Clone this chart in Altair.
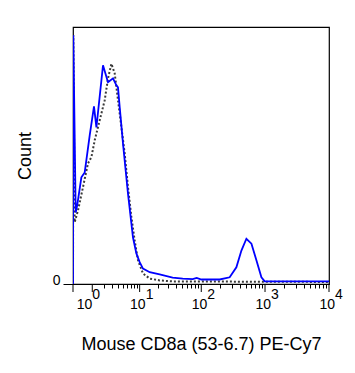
import altair as alt
import pandas as pd

# Blue solid histogram (fluorescence value, count as % of max)
blue_x = [0, 0.011, 0.102, 0.163, 0.352, 0.524, 0.824, 1.128, 1.321, 1.943,
          2.524, 3.217, 3.767, 4.047, 4.37, 5.04, 6.23, 7.66, 8.78, 10.0,
          11.4, 14.8, 21.6, 35.1, 50.8, 73.1, 84.7, 100.4, 195, 279.5,
          356, 427, 511, 613, 733, 878, 988, 10000]
blue_y = [0, 96.8, 27.8, 30.6, 41.5, 43.4, 57.8, 69.1, 60.9, 85.1,
          78.5, 80.0, 77.3, 76.5, 68.7, 54.7, 35.2, 18.1, 11.9, 8.5,
          6.0, 4.6, 3.7, 2.5, 2.1, 1.9, 2.4, 1.75, 1.75, 2.6,
          6.5, 13.0, 17.6, 15.7, 9.2, 2.6, 1.0, 1.0]

# Dotted (control) histogram
dot_x = [0, 0.011, 0.063, 0.197, 0.433, 0.714, 0.939, 1.183, 1.613, 2.128,
         2.524, 2.98, 3.48, 4.05, 4.70, 5.42, 6.23, 7.18, 8.2, 9.37,
         11.4, 14.8, 21.6, 35.1, 10000]
dot_y = [0, 96.8, 24.1, 28.6, 37.7, 46.9, 49.4, 55.9, 63.7, 71.5,
         80.0, 85.7, 82.0, 71.5, 61.1, 50.8, 37.7, 26.0, 16.9, 9.2,
         4.1, 2.1, 1.4, 1.0, 0.8]

minor_ticks = [2, 3, 4, 5, 6, 7, 8, 9,
               20, 30, 40, 50, 60, 70, 80, 90,
               200, 300, 400, 500, 600, 700, 800, 900,
               2000, 3000, 4000, 5000, 6000, 7000, 8000, 9000]
major_ticks = [0, 1, 10, 100, 1000, 10000]
label_vals = [10, 100, 1000, 10000]
label_exps = ["1", "2", "3", "4"]
first_val = [1]
first_exp = ["0"]

x_title = "Mouse CD8a (53-6.7) PE-Cy7"
y_title = "Count"

FONT = "Liberation Sans"
W, H = 256, 257

xscale = alt.Scale(type="symlog", constant=1, domain=[0, 10000], nice=False)
yscale = alt.Scale(domain=[0, 100], nice=False)

xaxis = alt.Axis(values=minor_ticks, labels=False, tickSize=4,
                 tickColor="black", domain=False, grid=False,
                 title=x_title, titleFont=FONT, titleFontSize=18,
                 titleFontWeight="normal", titlePadding=47,
                 titleColor="black")
yaxis = alt.Axis(values=[0], tickSize=10, tickColor="black",
                 labelFont=FONT, labelFontSize=14, labelColor="black",
                 labelPadding=3, labelBaseline="alphabetic",
                 domain=False, grid=False, title=y_title,
                 titleFont=FONT, titleFontSize=18,
                 titleFontWeight="normal", titleColor="black",
                 titlePadding=18)

X = alt.X("v:Q", scale=xscale, axis=xaxis)
Y = alt.Y("c:Q", scale=yscale, axis=yaxis)

df_blue = pd.DataFrame({"v": blue_x, "c": blue_y})
df_dot = pd.DataFrame({"v": dot_x, "c": dot_y})
df_major = pd.DataFrame({"v": major_ticks})
df_lab = pd.DataFrame({"v": label_vals, "e": label_exps})
df_first = pd.DataFrame({"v": first_val, "e": first_exp})

dotted = alt.Chart(df_dot).mark_line(
    color="#3a3a3a", strokeWidth=2, strokeDash=[2, 2], clip=True
).encode(x=X, y=Y)

blue = alt.Chart(df_blue).mark_line(
    color="#0000ff", strokeWidth=1.8, clip=True
).encode(x=X, y=Y)

major = alt.Chart(df_major).mark_rule(color="black", strokeWidth=1).encode(
    x=X,
    y=alt.value(H),
    y2=alt.value(H + 8),
)

base10 = alt.Chart(df_lab).mark_text(
    font=FONT, fontSize=14, align="right", baseline="alphabetic", dx=6, color="black"
).encode(
    x=X,
    y=alt.value(H + 25),
    text=alt.value("10"),
)
sup = alt.Chart(df_lab).mark_text(
    font=FONT, fontSize=14, align="left", baseline="alphabetic", dx=6, color="black"
).encode(
    x=X,
    y=alt.value(H + 15),
    text="e:N",
)
base10_first = alt.Chart(df_first).mark_text(
    font=FONT, fontSize=14, align="right", baseline="alphabetic", dx=0, color="black"
).encode(
    x=X,
    y=alt.value(H + 25),
    text=alt.value("10"),
)
sup_first = alt.Chart(df_first).mark_text(
    font=FONT, fontSize=14, align="left", baseline="alphabetic", dx=0, color="black"
).encode(
    x=X,
    y=alt.value(H + 15),
    text="e:N",
)

chart = alt.layer(dotted, blue, major, base10, sup, base10_first, sup_first).properties(
    width=W, height=H,
    padding={"left": 73, "top": 27, "right": 26, "bottom": 89},
    autosize=alt.AutoSizeParams(type="none"),
    background="white",
).configure_view(
    stroke="black", strokeWidth=1.2
)

chart.save("out.html", embed_options={"renderer": "svg", "actions": False})
